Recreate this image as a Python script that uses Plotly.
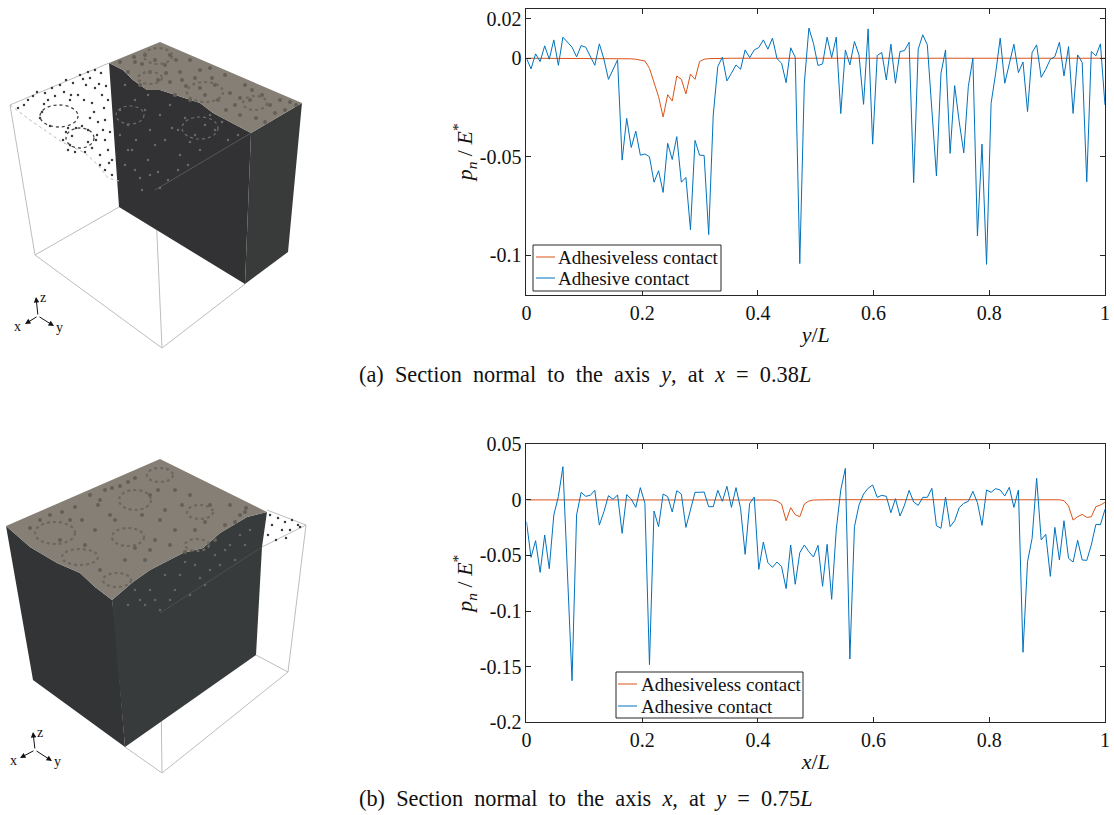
import plotly.graph_objects as go

# ---------- chart data ----------
y_over_L = [i / 127 for i in range(128)]
x_over_L = [i / 127 for i in range(128)]

section_a_adhesive = [
    0, -0.0054, 0.0022, -0.0017, 0.0063, -0.0005, 0.0093, -0.0036, 0.0107, 0.0081,
    0.0056, 0.0007, 0.0064, 0.0056, 0.0008, -0.0036, 0.0073, -0.0005, -0.0107, -0.0059,
    -0.0008, -0.0517, -0.0305, -0.0453, -0.0370, -0.0492, -0.0486, -0.0500, -0.0629, -0.0571,
    -0.0681, -0.0432, -0.0514, -0.0398, -0.0629, -0.0605, -0.0870, -0.0417, -0.0492, -0.0493,
    -0.0895, -0.0288, -0.0042, 0.0005, -0.0115, -0.0076, -0.0034, -0.0056, 0.0042, 0.0003,
    0.0042, 0.0054, 0.0093, 0.0046, 0.0102, -0.0002, -0.0025, -0.0124, 0.0053, 0.0005,
    -0.1042, -0.0127, 0.0153, 0.0076, -0.0037, -0.0029, 0.0107, 0.0003, 0.0107, -0.0281,
    0.0042, -0.0034, 0.0085, 0.0017, -0.0234, 0.0149, -0.0436, 0.0014, 0.0029, -0.0110,
    0.0071, -0.0127, 0.0034, 0.0039, 0.0081, -0.0632, 0.0046, 0.0119, 0.0068, -0.0263,
    -0.0597, -0.0076, 0.0042, -0.0483, -0.0139, -0.0322, -0.0480, -0.0144, 0, -0.0902,
    -0.0436, -0.1046, -0.0229, -0.0076, 0.0102, -0.0127, -0.0025, 0.0071, -0.0073, -0.0019,
    -0.0271, 0.0029, 0.0068, -0.0097, -0.0056, -0.0005, 0.0008, 0.0081, -0.0090, 0.0059,
    -0.0280, 0.0017, -0.0022, -0.0627, 0.0034, 0.0012, 0.0073, -0.0237,
]
section_a_adhesiveless = [
    0, 0, 0, 0, 0, 0, 0, 0, 0, 0, 0, 0, 0, 0, 0, 0, 0, 0, 0, -0.0001,
    -0.0001, -0.0002, -0.0002, -0.0003, -0.0005, -0.0008, -0.0014, -0.0051, -0.0127, -0.0195,
    -0.0298, -0.0185, -0.0217, -0.0090, -0.0107, -0.0181, -0.0080, -0.0107, -0.0017, -0.0005,
    -0.0002, -0.0001, 0, 0, 0, 0, 0, 0, 0, 0, 0, 0, 0, 0, 0, 0, 0, 0, 0, 0,
    0, 0, 0, 0, 0, 0, 0, 0, 0, 0, 0, 0, 0, 0, 0, 0, 0, 0, 0, 0,
    0, 0, 0, 0, 0, 0, 0, 0, 0, 0, 0, 0, 0, 0, 0, 0, 0, 0, 0, 0,
    0, 0, 0, 0, 0, 0, 0, 0, 0, 0, 0, 0, 0, 0, 0, 0, 0, 0, 0, 0,
    0, 0, 0, 0, 0, 0, 0, 0,
]
section_b_adhesive = [
    -0.0198, -0.0518, -0.0368, -0.0653, -0.0317, -0.0620, -0.0138, 0.0027, 0.0296, -0.0662,
    -0.1626, -0.0138, 0.0066, 0.0030, 0.0039, 0.0084, -0.0228, -0.0108, 0.0036, 0.0003,
    0.0042, -0.0302, 0.0045, 0.0006, -0.0069, 0.0108, -0.0033, -0.1482, -0.0102, -0.0243,
    0.0051, 0.0027, -0.0111, 0.0081, 0.0051, -0.0249, -0.0084, 0.0066, 0.0066, 0.0069,
    -0.0063, -0.0063, 0.0084, -0.0015, 0.0120, -0.0069, 0.0108, -0.0078, -0.0491, -0.0033,
    0.0024, -0.0626, -0.0380, -0.0566, -0.0608, -0.0560, -0.0602, -0.0799, -0.0407, -0.0760,
    -0.0476, -0.0407, -0.0467, -0.0515, -0.0410, -0.0778, -0.0401, -0.0895, -0.0272, 0.0087,
    0.0281, -0.1431, -0.0243, -0.0048, 0.0051, 0.0102, 0.0132, 0.0021, 0.0039, 0.0030,
    -0.0117, 0.0009, -0.0147, -0.0048, 0.0084, -0.0021, -0.0051, 0.0021, 0.0021, 0.0102,
    -0.0234, -0.0257, 0.0024, -0.0243, -0.0189, -0.0072, -0.0033, -0.0015, 0.0075, -0.0027,
    -0.0231, 0.0087, 0.0066, 0.0099, 0.0087, 0.0033, 0.0111, -0.0069, 0.0087, -0.1371,
    -0.0557, -0.0347, 0.0192, -0.0362, -0.0311, -0.0689, -0.0249, -0.0542, -0.0189, -0.0527,
    -0.0560, -0.0365, -0.0542, -0.0545, -0.0407, -0.0222, -0.0225, -0.0087,
]
section_b_adhesiveless = [
    -0.0002, -0.0002, -0.0002, -0.0003, -0.0003, -0.0003, -0.0002, -0.0002, -0.0002, -0.0002,
    -0.0002, -0.0002, -0.0002, -0.0001, -0.0001, -0.0001, -0.0001, -0.0001, -0.0001, -0.0001,
    0, 0, 0, 0, 0, 0, 0, 0, 0, 0, 0, 0, 0, 0, 0, 0, 0, 0, 0, 0,
    0, 0, 0, 0, 0, 0, 0, 0, 0, 0, 0, 0, -0.0001, -0.0001, -0.0003, -0.0012, -0.0039, -0.0189, -0.0072, -0.0135,
    -0.0153, -0.0039, -0.0012, -0.0003, -0.0001, 0, 0, 0, 0, 0, 0, 0, 0, 0, 0, 0, 0, 0, 0, 0,
    0, 0, 0, 0, 0, 0, 0, 0, 0, 0, 0, 0, 0, 0, 0, 0, 0, 0, 0, 0,
    0, 0, 0, 0, 0, 0, 0, 0, 0, 0, 0, 0, 0, 0, 0, 0, 0, -0.0001, -0.0009, -0.0057,
    -0.0183, -0.0153, -0.0132, -0.0159, -0.0153, -0.0063, -0.0048, -0.0024,
]

x_ticks = [0, 0.2, 0.4, 0.6, 0.8, 1]
x_tick_text = ["0", "0.2", "0.4", "0.6", "0.8", "1"]
a_ticks = [0.02, 0, -0.05, -0.1]
a_tick_text = ["0.02", "0", "-0.05", "-0.1"]
b_ticks = [0.05, 0, -0.05, -0.1, -0.15, -0.2]
b_tick_text = ["0.05", "0", "-0.05", "-0.1", "-0.15", "-0.2"]

series_names = ["Adhesiveless contact", "Adhesive contact"]
BLUE, RED = "#0072BD", "#D95319"
FONT = "Liberation Serif"
INK = "#262626"
TEXT = "#111111"

# ---------- illustration geometry (image pixels) ----------
a_top = [(109,63),(160,42),(302,103),(251,133),(213,113),(200,103),(160,90),(147,90),(133,80),(123,70)]
a_front = [(109,63),(123,70),(133,80),(147,90),(160,90),(200,103),(213,113),(251,133),(245,284),(119,207)]
a_side = [(251,133),(302,103),(288,252),(245,284)]
a_wire = [[(10,105),(109,63)],[(10,105),(35,255)],[(35,255),(162,348)],[(162,348),(245,284)],
          [(35,255),(119,207)],[(155,190),(162,348)]]
a_edge = [(10,105),(30,120),(62,142),(85,153),(98,165),(108,178),(119,181)]
a_rings = [(59,116,19,11),(80,138,14,10)]
a_craters = [(158,56,14,8),(205,92,18,10),(150,78,12,6),(255,103,12,7)]
a_dark_rings = [(130,115,14,9),(200,128,18,11)]
a_speck_x = [18,28,37,45,52,60,66,73,80,88,95,101,86,95,102,78,84,92,104,108,70,90,98,105,97,105,88,68,100,108,112,105,112,70,75,85,92,96,48,55,40,
             24,33,42,64,71,83,90,99,106,44,50,66,72,76,82,94,103,110,68,63,88,100,109]
a_speck_y = [108,100,92,93,88,85,80,83,75,72,70,73,85,88,95,95,100,103,108,100,100,118,122,120,135,140,130,128,155,150,160,170,175,145,152,152,148,140,100,96,118,
             105,96,112,92,95,79,78,84,86,104,126,132,136,128,126,112,130,132,150,140,142,165,163]
a_blot_x = [135,150,140,165,180,195,215,230,250,270,285,265,240,205,190,175,155,170,145,120,225,210,190,245,128,262,290,235,200,170,
            134,142,158,176,186,200,218,240,256,275,296,280,252,226,212,182,166]
a_blot_y = [62,72,85,65,72,78,85,93,100,105,110,122,115,95,100,95,60,55,55,62,75,68,60,85,72,95,102,105,88,82,
            57,64,80,60,86,70,100,98,118,113,105,100,90,110,78,80,73]
a_cut_x = [125,135,128,145,150,160,170,185,195,205,215,228,238,132,148,165,180,200,125,140,158,178,160,142,128,178,
           136,155,172,190,210,222,120,148,168,188,135,120,150]
a_cut_y = [85,100,125,110,130,115,105,118,135,125,130,140,135,150,160,140,155,150,165,178,172,170,188,190,150,130,
           140,145,128,142,115,122,110,95,180,165,170,135,175]

b_top = [(6,526),(160,459),(267,512),(247,517),(220,533),(203,548),(183,553),(150,570),(133,582),(112,600),(95,587),(80,573),(57,563),(30,547)]
b_left = [(6,526),(30,547),(57,563),(80,573),(95,587),(112,600),(115,623),(125,747),(33,680)]
b_right = [(112,600),(133,582),(150,570),(183,553),(203,548),(220,533),(247,517),(267,512),(262,547),(256,655),(125,747)]
b_wire = [[(306,525),(267,510)],[(306,525),(262,547)],[(306,525),(288,672)],[(288,672),(162,773)],
          [(162,773),(125,747)],[(256,655),(288,672)],[(160,613),(162,773)]]
b_craters = [(55,533,20,11),(135,500,16,10),(160,475,13,7),(128,537,16,9),(80,557,18,8),(117,580,14,7),(200,512,13,7),(197,545,12,6)]
b_blot_x = [30,50,75,90,105,120,135,150,175,190,210,230,245,110,95,70,160,175,195,215,150,165,100,125,145,235,60,85,170,225,
            40,62,82,98,112,128,142,158,182,205,240,246,155,185,135,100,115]
b_blot_y = [528,515,507,495,490,486,478,495,490,495,505,505,512,515,530,520,520,530,530,540,550,510,500,560,560,522,540,545,545,525,
            520,512,520,505,488,482,515,490,505,522,515,508,540,552,548,570,520]
b_speck_x = [270,278,285,292,298,272,282,290,268,276,300,286]
b_speck_y = [515,518,522,520,525,525,530,530,535,540,527,538]
b_cut_x = [135,150,165,180,195,210,225,240,250,145,160,175,190,205,220,235,128,155,140,170,200,230,245,185,215]
b_cut_y = [590,590,575,575,565,570,550,535,530,605,610,590,595,585,565,560,605,600,600,600,578,545,545,562,555]


def poly(points, fill):
    d = "M " + " L ".join(f"{x},{y}" for x, y in points) + " Z"
    return dict(type="path", path=d, xref="x3", yref="y3", fillcolor=fill,
                line=dict(width=0), layer="below")


def wire(seg, color="#bdbdbd"):
    (x0, y0), (x1, y1) = seg
    return dict(type="line", x0=x0, y0=y0, x1=x1, y1=y1, xref="x3", yref="y3",
                line=dict(color=color, width=1), layer="below")


def ring(c, color, width=1.2, dash="solid", layer="above"):
    cx, cy, rx, ry = c
    return dict(type="circle", x0=cx-rx, x1=cx+rx, y0=cy-ry, y1=cy+ry, xref="x3", yref="y3",
                line=dict(color=color, width=width, dash=dash), layer=layer)


def cap(x, y, text, size=18, **kw):
    return dict(x=x, y=y, xref="x3", yref="y3", text=text, showarrow=False, borderpad=0,
                font=dict(family=FONT, size=size, color=TEXT), **kw)


def legend_box(x0, y0, x1, y1, lx0, lx1, ly0, ly1, tx):
    items = [
        dict(type="rect", x0=x0, y0=y0, x1=x1, y1=y1, xref="x3", yref="y3",
             fillcolor="white", line=dict(color=INK, width=1), layer="above"),
        dict(type="line", x0=lx0, x1=lx1, y0=ly0, y1=ly0, xref="x3", yref="y3",
             line=dict(color=RED, width=1), layer="above"),
        dict(type="line", x0=lx0, x1=lx1, y0=ly1, y1=ly1, xref="x3", yref="y3",
             line=dict(color=BLUE, width=1), layer="above"),
    ]
    texts = [cap(tx, ly0, series_names[0], 19, xanchor="left"), cap(tx, ly1, series_names[1], 19, xanchor="left")]
    return items, texts


def arrow(x, y, ax, ay):
    return dict(x=x, y=y, ax=ax, ay=ay, xref="x3", yref="y3", axref="x3", ayref="y3", text="",
                showarrow=True, arrowhead=2, arrowsize=1.1, arrowwidth=1, arrowcolor=TEXT)


shapes = []
shapes += [wire(s) for s in a_wire + b_wire]
shapes += [poly(a_front, "#323234"), poly(a_side, "#393b3b"), poly(a_top, "#857f75")]
shapes += [poly(b_left, "#333436"), poly(b_right, "#383b3c"), poly(b_top, "#857f75")]
shapes += [dict(type="path", path="M " + " L ".join(f"{x},{y}" for x, y in a_edge),
                xref="x3", yref="y3", line=dict(color="#bbbbbb", width=1, dash="dot"), layer="below")]
shapes += [wire([(155,190),(251,133)], "#55575a"), wire([(160,613),(262,547)], "#4c4e50")]
shapes += [ring(c, "#444444", 1.3, "dot") for c in a_rings]
shapes += [ring(c, "#6c675f", 2.2, "dot") for c in a_craters + b_craters]
shapes += [ring(c, "#6e6e6e", 1.2, "dot") for c in a_dark_rings]

leg_a, leg_a_text = legend_box(533, 245, 721, 291, 536, 555, 257, 278, 557)
leg_b, leg_b_text = legend_box(616, 672, 803, 718, 618, 637, 684, 706, 640)
shapes += leg_a + leg_b

fig = go.Figure()

# illustration texture
for xs, ys, col, size in [
    (a_speck_x, a_speck_y, "#3d3d3d", 2.5), (b_speck_x, b_speck_y, "#3d3d3d", 2.5),
    (a_blot_x, a_blot_y, "#655f58", 4), (b_blot_x, b_blot_y, "#655f58", 4),
    (a_cut_x, a_cut_y, "#6a6a6a", 2.5), (b_cut_x, b_cut_y, "#666666", 2.5),
]:
    fig.add_trace(go.Scatter(x=xs, y=ys, mode="markers", xaxis="x3", yaxis="y3", showlegend=False,
                             hoverinfo="skip", marker=dict(color=col, size=size, line=dict(width=0))))

# section (a)
fig.add_trace(go.Scatter(x=y_over_L, y=section_a_adhesiveless, mode="lines", name=series_names[0],
                         line=dict(color=RED, width=1), xaxis="x", yaxis="y", showlegend=False))
fig.add_trace(go.Scatter(x=y_over_L, y=section_a_adhesive, mode="lines", name=series_names[1],
                         line=dict(color=BLUE, width=1), xaxis="x", yaxis="y", showlegend=False))
# section (b)
fig.add_trace(go.Scatter(x=x_over_L, y=section_b_adhesiveless, mode="lines", name=series_names[0],
                         line=dict(color=RED, width=1), xaxis="x2", yaxis="y2", showlegend=False))
fig.add_trace(go.Scatter(x=x_over_L, y=section_b_adhesive, mode="lines", name=series_names[1],
                         line=dict(color=BLUE, width=1), xaxis="x2", yaxis="y2", showlegend=False))

axis_common = dict(showgrid=False, zeroline=False, showline=True, linecolor=INK, linewidth=1, automargin=False,
                   mirror="ticks", ticks="inside", ticklen=5, tickcolor=INK, tickwidth=1,
                   tickfont=dict(family=FONT, size=20, color=TEXT))

x_common = dict(axis_common, range=[0, 1], tickmode="array", tickvals=x_ticks, ticktext=x_tick_text,
                domain=[0.4726, 0.9919])

SP = "&nbsp;&nbsp;"
annotations = [
    cap(358, 374, f"(a){SP}Section{SP}normal{SP}to{SP}the{SP}axis{SP}<i>y</i>,{SP}at{SP}<i>x</i>{SP}={SP}0.38<i>L</i>", 22.3, xanchor="left"),
    cap(358, 798, f"(b){SP}Section{SP}normal{SP}to{SP}the{SP}axis{SP}<i>x</i>,{SP}at{SP}<i>y</i>{SP}={SP}0.75<i>L</i>", 22.3, xanchor="left"),
    arrow(36, 297, 38, 316), arrow(25, 324, 38, 316), arrow(54, 326, 38, 316),
    cap(43, 297, "z", 14), cap(17, 326, "x", 14), cap(59, 327, "y", 14),
    arrow(33, 732, 35, 750), arrow(20, 758, 35, 750), arrow(52, 761, 35, 750),
    cap(40, 732, "z", 14), cap(13, 760, "x", 14), cap(57, 761, "y", 14),
] + leg_a_text + leg_b_text

ylabel = "<i>p</i><sub><i>n</i></sub> / <i>E</i><sup>*</sup>"
title_font = dict(family=FONT, size=22, color=TEXT)

fig.update_layout(
    width=1114, height=815, autosize=False, paper_bgcolor="white", plot_bgcolor="rgba(0,0,0,0)",
    margin=dict(l=0, r=0, t=0, b=0, pad=0, autoexpand=False), shapes=shapes, annotations=annotations, showlegend=False,
    xaxis=dict(x_common, anchor="y", title=dict(text="<i>y</i>/<i>L</i>", standoff=3, font=title_font)),
    yaxis=dict(axis_common, domain=[0.6384, 0.9890], anchor="x", range=[-0.12, 0.025], tickmode="array",
               tickvals=a_ticks, ticktext=a_tick_text, title=dict(text=ylabel, standoff=0, font=title_font)),
    xaxis2=dict(x_common, anchor="y2", title=dict(text="<i>x</i>/<i>L</i>", standoff=3, font=title_font)),
    yaxis2=dict(axis_common, domain=[0.1137, 0.4552], anchor="x2", range=[-0.2, 0.05], tickmode="array",
                tickvals=b_ticks, ticktext=b_tick_text, title=dict(text=ylabel, standoff=0, font=title_font)),
    xaxis3=dict(domain=[0, 1], range=[0, 1114], visible=False, fixedrange=True, anchor="y3", automargin=False),
    yaxis3=dict(domain=[0, 1], range=[815, 0], visible=False, fixedrange=True, anchor="x3", automargin=False),
)

fig.write_html("out.html", config=dict(displayModeBar=False),
               post_script="document.body.style.margin='0';document.body.style.overflow='hidden';")
